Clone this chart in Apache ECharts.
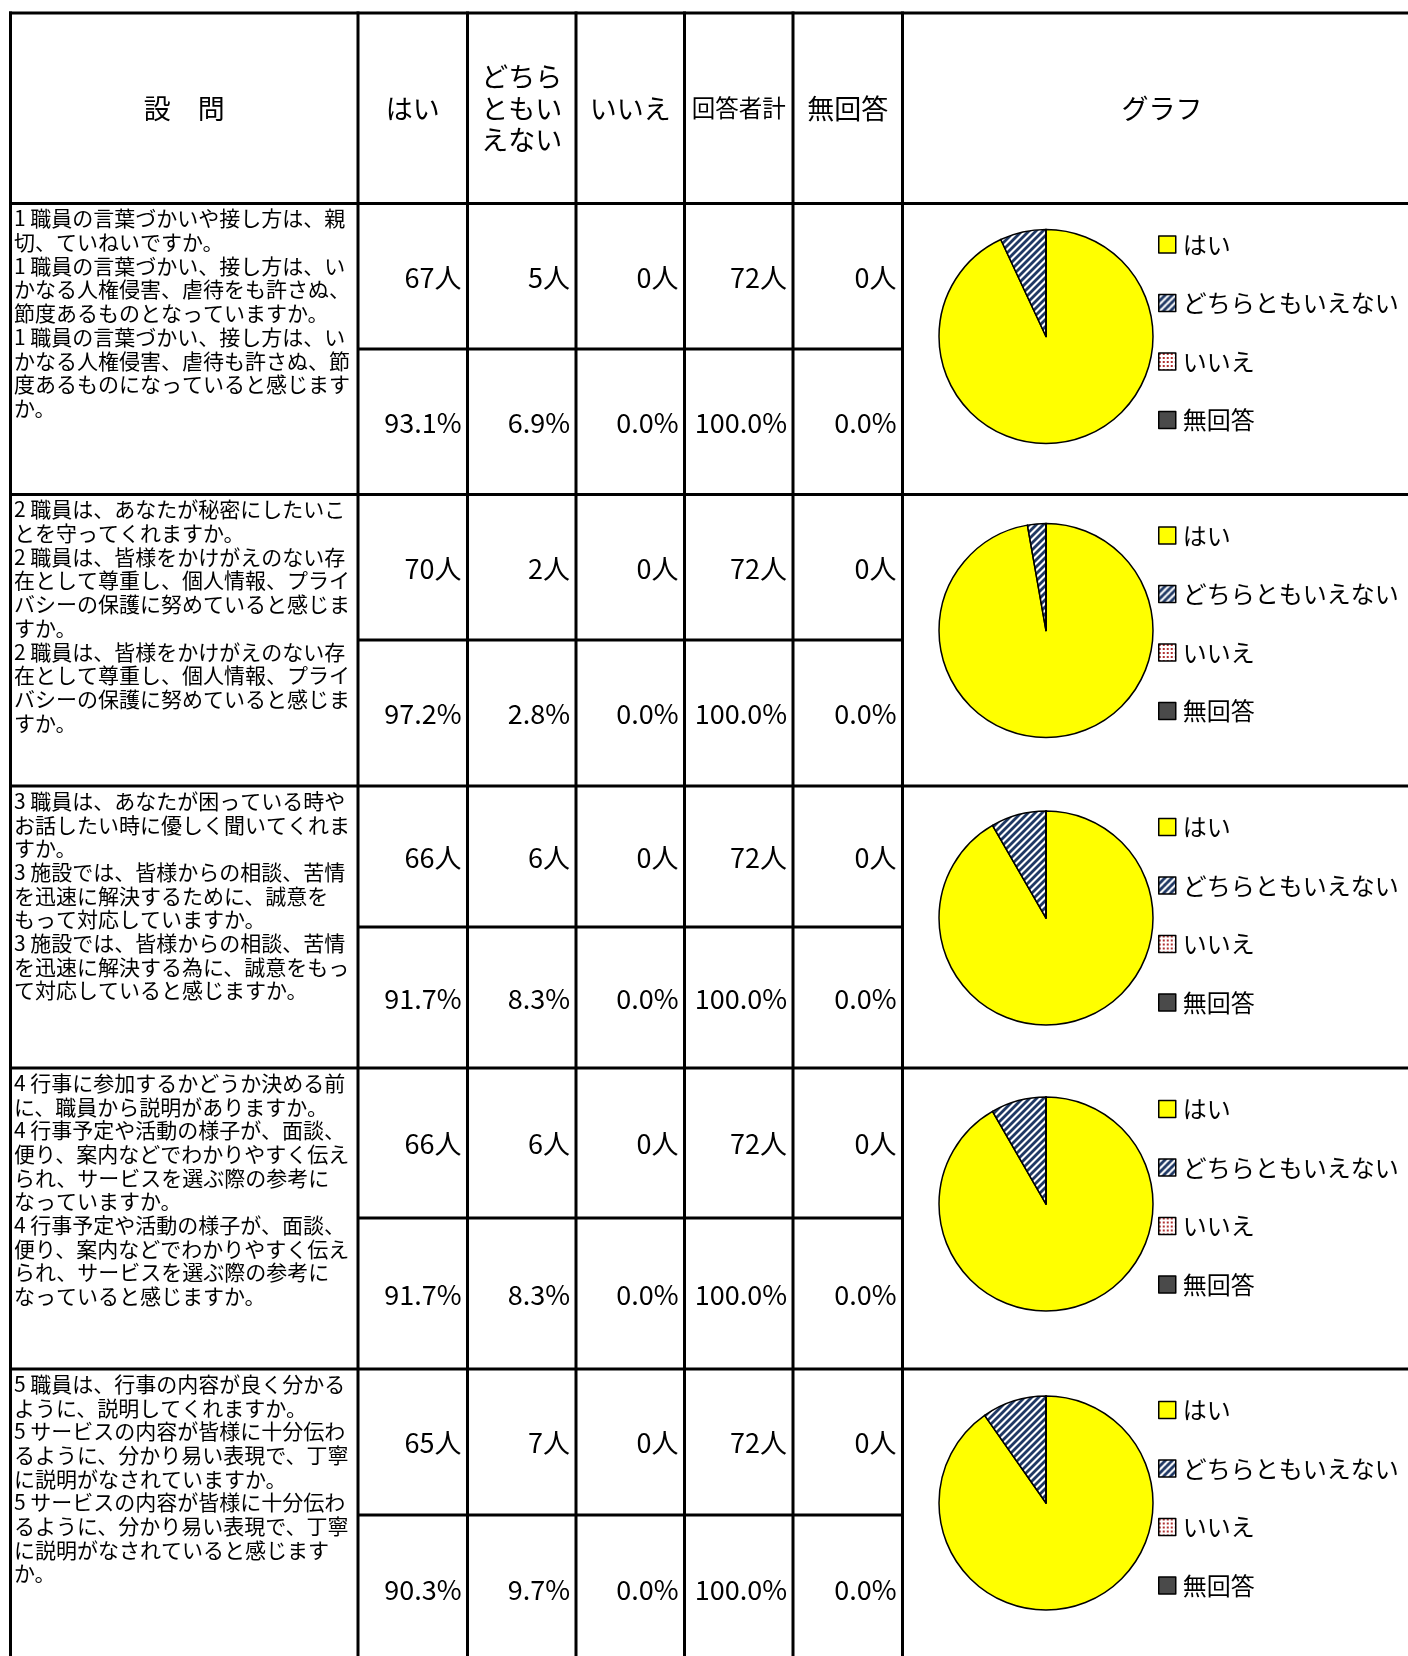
<!DOCTYPE html>
<html>
<head>
<meta charset="utf-8">
<script src="https://cdn.jsdelivr.net/npm/echarts@6/dist/echarts.min.js"></script>
<style>
html,body{margin:0;padding:0;background:#fff;}
#chart{width:1408px;height:1656px;}
</style>
</head>
<body>
<div id="chart"></div>
<script>
// ---------- DATA ----------
const headerLabels = ['設　問', 'はい', 'どちら\nともい\nえない', 'いいえ', '回答者計', '無回答', 'グラフ'];
const answerNames = ['はい', 'どちらともいえない', 'いいえ', '無回答'];
const questions = [
  ['1 職員の言葉づかいや接し方は、親', '切、ていねいですか。', '1 職員の言葉づかい、接し方は、い', 'かなる人権侵害、虐待をも許さぬ、', '節度あるものとなっていますか。', '1 職員の言葉づかい、接し方は、い', 'かなる人権侵害、虐待も許さぬ、節', '度あるものになっていると感じます', 'か。'],
  ['2 職員は、あなたが秘密にしたいこ', 'とを守ってくれますか。', '2 職員は、皆様をかけがえのない存', '在として尊重し、個人情報、プライ', 'バシーの保護に努めていると感じま', 'すか。', '2 職員は、皆様をかけがえのない存', '在として尊重し、個人情報、プライ', 'バシーの保護に努めていると感じま', 'すか。'],
  ['3 職員は、あなたが困っている時や', 'お話したい時に優しく聞いてくれま', 'すか。', '3 施設では、皆様からの相談、苦情', 'を迅速に解決するために、誠意を', 'もって対応していますか。', '3 施設では、皆様からの相談、苦情', 'を迅速に解決する為に、誠意をもっ', 'て対応していると感じますか。'],
  ['4 行事に参加するかどうか決める前', 'に、職員から説明がありますか。', '4 行事予定や活動の様子が、面談、', '便り、案内などでわかりやすく伝え', 'られ、サービスを選ぶ際の参考に', 'なっていますか。', '4 行事予定や活動の様子が、面談、', '便り、案内などでわかりやすく伝え', 'られ、サービスを選ぶ際の参考に', 'なっていると感じますか。'],
  ['5 職員は、行事の内容が良く分かる', 'ように、説明してくれますか。', '5 サービスの内容が皆様に十分伝わ', 'るように、分かり易い表現で、丁寧', 'に説明がなされていますか。', '5 サービスの内容が皆様に十分伝わ', 'るように、分かり易い表現で、丁寧', 'に説明がなされていると感じます', 'か。']
];
const yesCounts      = [67, 70, 66, 66, 65];
const neutralCounts  = [5, 2, 6, 6, 7];
const noCounts       = [0, 0, 0, 0, 0];
const totalCounts    = [72, 72, 72, 72, 72];
const noAnswerCounts = [0, 0, 0, 0, 0];
const yesPct      = [93.1, 97.2, 91.7, 91.7, 90.3];
const neutralPct  = [6.9, 2.8, 8.3, 8.3, 9.7];
const noPct       = [0.0, 0.0, 0.0, 0.0, 0.0];
const totalPct    = [100.0, 100.0, 100.0, 100.0, 100.0];
const noAnswerPct = [0.0, 0.0, 0.0, 0.0, 0.0];

// ---------- LAYOUT ----------
const L = {
  colX: [10.5, 358, 467.5, 576, 684.5, 793, 902.5],
  rightEdge: 1410,
  graphHeaderCx: 1162,
  top: 13,
  headerBottom: 203.5,
  rowTops: [203.5, 494.5, 786, 1068, 1369],
  rowMids: [349, 640, 927, 1218, 1515],
  rowBottoms: [494.5, 786, 1068, 1369, 1662],
  pieOffsets: [133, 136, 132, 136, 134],
  pieCx: 1046, pieR: 107,
  legendLeft: 1158, legendOffset: 29,
  lineW: 3
};
const JP = '"Noto Sans CJK JP", "Noto Sans", sans-serif';

// ---------- PATTERNS ----------
function stripeCanvas() {
  const s = 7, c = document.createElement('canvas');
  c.width = s; c.height = s;
  const g = c.getContext('2d');
  g.fillStyle = '#ffffff'; g.fillRect(0, 0, s, s);
  g.strokeStyle = '#1F3864'; g.lineWidth = 2.8;
  for (const k of [-s, 0, s]) {
    g.beginPath(); g.moveTo(k - 1, s + 1); g.lineTo(k + s + 1, -1); g.stroke();
  }
  return c;
}
function dotCanvas() {
  const s = 4, c = document.createElement('canvas');
  c.width = s; c.height = s;
  const g = c.getContext('2d');
  g.fillStyle = '#ffffff'; g.fillRect(0, 0, s, s);
  g.fillStyle = '#B03030'; g.fillRect(0, 0, 2, 2);
  return c;
}
const sliceColors = [
  '#FFFF00',
  { image: stripeCanvas(), repeat: 'repeat' },
  { image: dotCanvas(), repeat: 'repeat' },
  '#4A4A4A'
];

// ---------- TABLE GRAPHICS ----------
const els = [];
function hline(x1, x2, y) {
  els.push({ type: 'line', silent: true, z: 10, shape: { x1, y1: y, x2, y2: y }, style: { stroke: '#000', lineWidth: L.lineW } });
}
function vline(x, y1, y2) {
  els.push({ type: 'line', silent: true, z: 10, shape: { x1: x, y1, x2: x, y2 }, style: { stroke: '#000', lineWidth: L.lineW } });
}
function text(str, x, y, size, align, valign, lh) {
  const st = { text: str, x, y, fill: '#000', font: size + 'px ' + JP, align, verticalAlign: valign };
  if (lh) st.lineHeight = lh;
  els.push({ type: 'text', silent: true, z: 11, style: st });
}
hline(L.colX[0] - 1.5, L.rightEdge, L.top);
hline(L.colX[0] - 1.5, L.rightEdge, L.headerBottom);
L.colX.forEach(x => vline(x, L.top - 1.5, 1660));
for (let i = 0; i < 5; i++) {
  hline(L.colX[1], L.colX[6], L.rowMids[i]);
  hline(L.colX[0] - 1.5, L.rightEdge, L.rowBottoms[i]);
}
// header
const headerY = (L.top + L.headerBottom) / 2;
headerLabels.forEach((h, i) => {
  const cx = i < 6 ? (L.colX[i] + L.colX[i + 1]) / 2 : L.graphHeaderCx;
  const size = i === 4 ? 23.5 : 27;
  text(h, cx, headerY, size, 'center', 'middle', i === 2 ? 31.5 : null);
});
// body
const countCols = [yesCounts, neutralCounts, noCounts, totalCounts, noAnswerCounts];
const pctCols = [yesPct, neutralPct, noPct, totalPct, noAnswerPct];
for (let r = 0; r < 5; r++) {
  text(questions[r].join('\n'), 14, L.rowTops[r] + 3, 21, 'left', 'top', 23.7);
  const yTop = (L.rowTops[r] + L.rowMids[r]) / 2 + 1;
  const yBot = (L.rowMids[r] + L.rowBottoms[r]) / 2 + 1;
  for (let c = 0; c < 5; c++) {
    const xr = L.colX[c + 2] - 6;
    text(countCols[c][r] + '人', xr, yTop, 27, 'right', 'middle');
    text(pctCols[c][r].toFixed(1) + '%', xr, yBot, 27, 'right', 'middle');
  }
}

// ---------- PIES + LEGENDS ----------
const series = [], legends = [];
for (let r = 0; r < 5; r++) {
  const vals = [yesCounts[r], neutralCounts[r], noCounts[r], noAnswerCounts[r]];
  series.push({
    type: 'pie',
    silent: true,
    center: [L.pieCx, L.rowTops[r] + L.pieOffsets[r]],
    radius: L.pieR,
    startAngle: 90,
    clockwise: true,
    label: { show: false },
    labelLine: { show: false },
    emphasis: { disabled: true },
    itemStyle: { borderColor: '#000', borderWidth: 1.5 },
    data: answerNames.map((n, i) => ({ name: n, value: vals[i], itemStyle: { color: sliceColors[i] } }))
  });
  legends.push({
    data: answerNames,
    orient: 'vertical',
    left: L.legendLeft,
    top: L.rowTops[r] + L.legendOffset,
    padding: 0,
    icon: 'rect',
    itemWidth: 17,
    itemHeight: 17,
    itemGap: 34.5,
    selectedMode: false,
    itemStyle: { borderColor: '#000', borderWidth: 1.5 },
    textStyle: { fontSize: 24, fontFamily: JP, color: '#000', lineHeight: 24, padding: [0, 0, 0, 2] }
  });
}

const chart = echarts.init(document.getElementById('chart'), null, { renderer: 'canvas' });
chart.setOption({
  backgroundColor: '#fff',
  animation: false,
  tooltip: { show: false },
  legend: legends,
  series: series,
  graphic: { elements: els }
});
</script>
</body>
</html>
